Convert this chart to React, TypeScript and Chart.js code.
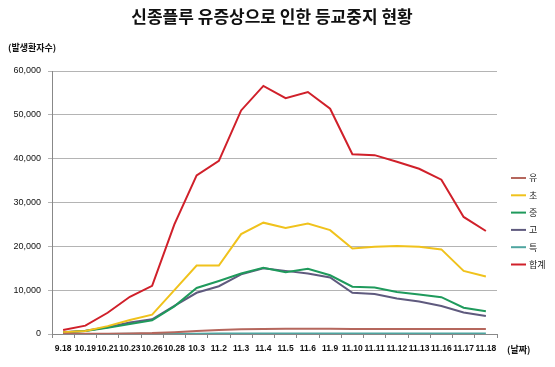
import React, { useEffect, useRef } from "react";
import { Chart, registerables } from "chart.js";

Chart.register(...registerables);

const categories = ["9.18", "10.19", "10.21", "10.23", "10.26", "10.28", "10.3", "11.2", "11.3", "11.4", "11.5", "11.6", "11.9", "11.10", "11.11", "11.12", "11.13", "11.16", "11.17", "11.18"];

const kinder = [50, 60, 80, 120, 200, 400, 680, 900, 1060, 1140, 1180, 1220, 1200, 1150, 1140, 1140, 1140, 1140, 1140, 1140];
const elementary = [400, 700, 1800, 3200, 4400, 10000, 15600, 15600, 22800, 25400, 24200, 25200, 23700, 19500, 19900, 20100, 19900, 19300, 14400, 13100];
const middle = [350, 700, 1400, 2300, 3100, 6300, 10500, 12100, 13800, 15100, 14100, 14900, 13400, 10800, 10600, 9600, 9000, 8400, 6000, 5200];
const high = [400, 750, 1550, 2600, 3350, 6400, 9400, 10900, 13600, 15000, 14400, 13800, 12900, 9400, 9100, 8100, 7400, 6400, 4900, 4100];
const special = [10, 15, 20, 30, 40, 60, 80, 90, 100, 110, 110, 110, 110, 100, 100, 100, 100, 100, 100, 100];
const total = [900, 1900, 4850, 8500, 11000, 25000, 36200, 39500, 51000, 56600, 53800, 55200, 51400, 41000, 40800, 39300, 37700, 35200, 26700, 23500];

const seriesNames = ["유", "초", "중", "고", "특", "합계"];
const seriesColors = ["#b5675d", "#f0c21c", "#1f9a5c", "#5f5a7e", "#4fa5a0", "#d0202a"];

const titleText = "신종플루 유증상으로 인한 등교중지 현황";
const yUnit = "(발생환자수)";
const xUnit = "(날짜)";

const KR = '"Noto Sans CJK KR", "Noto Sans", sans-serif';

export default function App() {
  const ref = useRef<HTMLCanvasElement>(null);

  useEffect(() => {
    if (!ref.current) return;
    const seriesData = [kinder, elementary, middle, high, special, total];

    const decor = {
      id: "decor",
      afterDraw(chart: any) {
        const ctx = chart.ctx;
        ctx.save();
        ctx.fillStyle = "#111";
        ctx.textBaseline = "middle";
        ctx.font = `bold 17px ${KR}`;
        ctx.textAlign = "center";
        ctx.fillText(titleText, 272, 17);
        ctx.font = `bold 9px ${KR}`;
        ctx.textAlign = "left";
        ctx.fillText(yUnit, 8, 48);
        ctx.fillText(xUnit, 507, 350);
        // legend
        ctx.font = `9px ${KR}`;
        seriesNames.forEach((n, i) => {
          const y = 178 + i * 17.3;
          ctx.strokeStyle = seriesColors[i];
          ctx.lineWidth = 2;
          ctx.beginPath();
          ctx.moveTo(511, y);
          ctx.lineTo(526, y);
          ctx.stroke();
          ctx.fillStyle = "#222";
          ctx.fillText(n, 529, y);
        });
        ctx.restore();
      },
    };

    const chart = new Chart(ref.current, {
      type: "line",
      data: {
        labels: categories,
        datasets: seriesData.map((d, i) => ({
          label: seriesNames[i],
          data: d,
          borderColor: seriesColors[i],
          backgroundColor: seriesColors[i],
          borderWidth: 2,
          pointRadius: 0,
          tension: 0,
          fill: false,
        })),
      },
      options: {
        responsive: false,
        animation: false,
        layout: { padding: { top: 71, right: 58, left: 0, bottom: 0 } },
        plugins: { legend: { display: false }, title: { display: false }, tooltip: { enabled: false } },
        scales: {
          x: {
            offset: true,
            grid: { offset: true, drawOnChartArea: false, color: "#888", tickLength: 4 },
            border: { display: true, color: "#888" },
            ticks: {
              autoSkip: false,
              maxRotation: 0,
              minRotation: 0,
              padding: 6,
              color: "#111",
              font: { family: '"Liberation Sans", Arial, sans-serif', size: 8.5, weight: "bold" },
            },
            afterFit: (s: any) => { s.height = 33; },
          },
          y: {
            min: 0,
            max: 60000,
            ticks: {
              stepSize: 10000,
              padding: 7,
              color: "#111",
              font: { family: '"Liberation Sans", Arial, sans-serif', size: 9 },
              callback: (v: any) => Number(v).toLocaleString("en-US"),
            },
            grid: { color: "#b4b4b4", tickLength: 4 },
            border: { display: true, color: "#888" },
            afterFit: (s: any) => { s.width = 52; },
          },
        },
      },
      plugins: [decor],
    });
    return () => chart.destroy();
  }, []);

  return (
    <div style={{ position: "absolute", left: 0, top: 0, width: 555, height: 367, background: "#fff" }}>
      <canvas ref={ref} width={555} height={367} />
    </div>
  );
}
